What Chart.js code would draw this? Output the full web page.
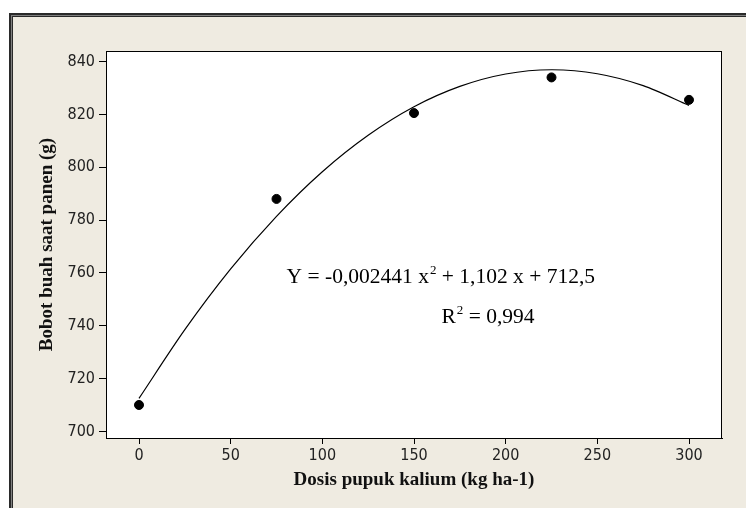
<!DOCTYPE html>
<html>
<head>
<meta charset="utf-8">
<script src="https://cdn.jsdelivr.net/npm/chart.js@4"></script>
<style>
  body { margin: 0; background: #fff; }
  canvas { display: block; }
</style>
</head>
<body>
<canvas id="chart" width="746" height="508"></canvas>
<script>
// observed means
const doses = [0, 75, 150, 225, 300];
const weights = [710, 788, 820.5, 834, 825.5];

// fitted curve
const curveX = [0, 25, 50, 75, 100, 125, 150, 175, 200, 225, 250, 275, 300];
const curveY = [712.5, 738.5, 761.5, 781.4, 798.3, 812.1, 822.9, 830.6, 835.3, 836.9, 835.4, 830.9, 823.4];

const xTicks = [0, 50, 100, 150, 200, 250, 300];
const yTicks = [700, 720, 740, 760, 780, 800, 820, 840];

const equation = ['Y = -0,002441 x', '2', ' + 1,102 x + 712,5'];
const rSquared = ['R', '2', ' = 0,994'];

const tickFont = { family: '"DejaVu Sans Condensed", "DejaVu Sans"', size: 16 };
const titleFont = { family: '"Liberation Serif"', size: 19, weight: 'bold' };

const frame = {
    id: 'frame',
    beforeDraw: chart => {
        const ctx = chart.ctx;
        const a = chart.chartArea;
        ctx.save();
        ctx.fillStyle = '#fff';
        ctx.fillRect(0, 0, 746, 508);
        ctx.fillStyle = '#2a2a2a';
        ctx.fillRect(9, 13, 737, 495);
        ctx.fillStyle = '#808080';
        ctx.fillRect(11, 15, 735, 493);
        ctx.fillStyle = '#2a2a2a';
        ctx.fillRect(12, 16, 734, 492);
        ctx.fillStyle = '#efebe1';
        ctx.fillRect(13, 17, 733, 491);
        ctx.fillStyle = '#fff';
        ctx.fillRect(a.left, a.top, a.right - a.left, a.bottom - a.top);
        ctx.restore();
    },
    afterDraw: chart => {
        const ctx = chart.ctx;
        const a = chart.chartArea;
        ctx.save();
        ctx.strokeStyle = '#000';
        ctx.lineWidth = 1;
        ctx.strokeRect(a.left + 0.5, a.top + 0.5, a.right - a.left - 1, a.bottom - a.top);

        // regression text
        const drawSup = (parts, x, y) => {
            ctx.font = '21.5px "Liberation Serif"';
            ctx.fillText(parts[0], x, y);
            x += ctx.measureText(parts[0]).width;
            ctx.font = '13px "Liberation Serif"';
            ctx.fillText(parts[1], x + 1, y - 9);
            x += ctx.measureText(parts[1]).width + 1;
            ctx.font = '21.5px "Liberation Serif"';
            ctx.fillText(parts[2], x, y);
        };
        ctx.fillStyle = '#000';
        ctx.textBaseline = 'alphabetic';
        ctx.textAlign = 'left';
        const xs = chart.scales.x, ys = chart.scales.y;
        drawSup(equation, xs.getPixelForValue(80.5), ys.getPixelForValue(756));
        drawSup(rSquared, xs.getPixelForValue(165), ys.getPixelForValue(741));
        ctx.restore();
    }
};

new Chart(document.getElementById('chart').getContext('2d'), {
    type: 'scatter',
    data: {
        datasets: [
            {
                type: 'line',
                data: curveX.map((x, i) => ({ x: x, y: curveY[i] })),
                borderColor: '#000',
                borderWidth: 1.2,
                pointRadius: 0,
                tension: 0.3,
                fill: false
            },
            {
                data: doses.map((x, i) => ({ x: x, y: weights[i] })),
                backgroundColor: '#000',
                borderColor: '#000',
                pointRadius: 4.5
            }
        ]
    },
    options: {
        responsive: false,
        devicePixelRatio: 1,
        animation: false,
        layout: { padding: { left: 13, right: 24, top: 51, bottom: 0 } },
        plugins: { legend: { display: false }, tooltip: { enabled: false } },
        scales: {
            x: {
                type: 'linear',
                min: -18,
                max: 318,
                afterBuildTicks: s => { s.ticks = xTicks.map(v => ({ value: v })); },
                afterFit: s => { s.height = 70; },
                grid: { drawOnChartArea: false, tickLength: 6, color: '#000', tickColor: '#000' },
                border: { color: '#000' },
                ticks: { color: '#222', font: tickFont, padding: 2, maxRotation: 0 },
                title: {
                    display: true,
                    text: 'Dosis pupuk kalium (kg ha-1)',
                    color: '#111',
                    font: titleFont,
                    padding: { top: 0, bottom: 17 }
                }
            },
            y: {
                min: 697.5,
                max: 844,
                afterBuildTicks: s => { s.ticks = yTicks.map(v => ({ value: v })); },
                afterFit: s => { s.width = 93; },
                grid: { drawOnChartArea: false, tickLength: 7, color: '#000', tickColor: '#000' },
                border: { color: '#000' },
                ticks: { color: '#222', font: tickFont, padding: 4 },
                title: {
                    display: true,
                    text: 'Bobot buah saat panen (g)',
                    color: '#111',
                    font: titleFont,
                    padding: { top: 23, bottom: 0 }
                }
            }
        }
    },
    plugins: [frame]
});
</script>
</body>
</html>
